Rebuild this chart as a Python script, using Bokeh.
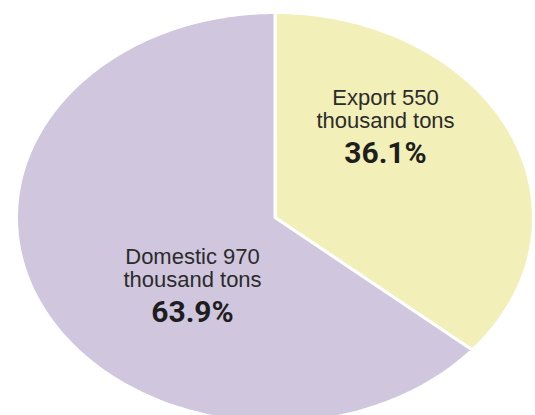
import numpy as np
from bokeh.plotting import figure
from bokeh.models import Range1d, ColumnDataSource
from bokeh.core.properties import value
from bokeh.embed import file_html
from bokeh.resources import INLINE

# ---- data ----
categories = ["Export", "Domestic"]
amounts = [550, 970]            # thousand tons
percents = ["36.1%", "63.9%"]
colors = ["#f2efb8", "#d0c7df"]

W, H = 535, 415
# pie geometry (pixel space)
CX, CY, RX, RY = 274.5, 217.0, 258.5, 205.0

p = figure(width=W, height=H, output_backend="svg", toolbar_location=None,
           x_axis_type=None, y_axis_type=None,
           x_range=Range1d(0, W), y_range=Range1d(H, 0), min_border=0)
p.outline_line_color = None
p.grid.visible = False
p.background_fill_color = "white"
p.border_fill_color = "white"

total = float(sum(amounts))
xs, ys = [], []
start = np.pi / 2  # 12 o'clock, going clockwise
for a in amounts:
    sweep = 2 * np.pi * a / total
    t = np.linspace(start, start - sweep, 200)
    px = np.concatenate([[CX], CX + RX * np.cos(t), [CX]])
    py = np.concatenate([[CY], CY - RY * np.sin(t), [CY]])
    xs.append(list(px))
    ys.append(list(py))
    start -= sweep

src = ColumnDataSource(dict(xs=xs, ys=ys, color=colors))
p.patches("xs", "ys", source=src, fill_color="color", line_color="white", line_width=3)

# labels
label_pos = {"Export": (385, 97), "Domestic": (192, 256)}
for cat, amt, pct in zip(categories, amounts, percents):
    lx, ly = label_pos[cat]
    p.text(x=[lx], y=[ly], text=[f"{cat} {amt}"], text_align="center",
           text_baseline="alphabetic", text_font=value("Liberation Sans"),
           text_font_size="22px", text_color="#2b2b2b")
    p.text(x=[lx], y=[ly + 23], text=["thousand tons"], text_align="center",
           text_baseline="alphabetic", text_font=value("Liberation Sans"),
           text_font_size="22px", text_color="#2b2b2b")
    p.text(x=[lx], y=[ly + 55], text=[pct], text_align="center",
           text_baseline="alphabetic", text_font=value("Roboto"),
           text_font_style="bold", text_font_size="30px", text_color="#1e1e1e")

open("out.html", "w").write(file_html(p, INLINE))
